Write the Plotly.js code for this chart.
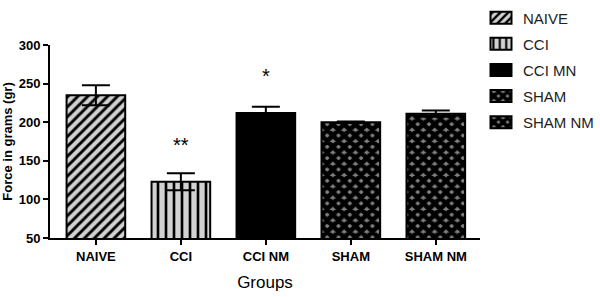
<!DOCTYPE html>
<html>
<head>
<meta charset="utf-8">
<script src="https://cdn.plot.ly/plotly-3.0.1.min.js"></script>
<style>html,body{margin:0;padding:0;background:#fff;}#chart{width:600px;height:297px;}</style>
</head>
<body>
<div id="chart"></div>
<script>
const categories = ["NAIVE", "CCI", "CCI NM", "SHAM", "SHAM NM"];
const legendNames = ["NAIVE", "CCI", "CCI MN", "SHAM", "SHAM NM"];
const means = [235, 123, 212, 200, 211];
const errors = [13, 11, 8, 1, 4];
const starLabels = ["", "**", "*", "", ""];
const starValues = [null, 170, 260, null, null];

const fills = ["#d2d2d2", "#d2d2d2", "#000000", "#808080", "#808080"];
const patterns = [
  {shape: "/", fgcolor: "#000", bgcolor: "#d2d2d2", size: 7, solidity: 0.42},
  {shape: "|", fgcolor: "#000", bgcolor: "#d2d2d2", size: 8, solidity: 0.33},
  {shape: ""},
  {shape: "x", fgcolor: "#000", bgcolor: "#808080", size: 8, solidity: 0.82},
  {shape: "x", fgcolor: "#000", bgcolor: "#808080", size: 8, solidity: 0.82}
];

const FONT = "Liberation Sans, Arial, sans-serif";

const traces = categories.map((c, i) => ({
  type: "bar",
  x: [c],
  y: [means[i]],
  name: legendNames[i],
  legendgroup: "g" + i,
  width: 0.69,
  marker: {color: fills[i], pattern: patterns[i], line: {color: "#000", width: 2}},
  error_y: {type: "data", array: [errors[i]], visible: true, color: "#000", thickness: 2, width: 14}
}));

const annotations = [];
categories.forEach((c, i) => {
  if (starLabels[i]) {
    annotations.push({x: c, y: starValues[i], xref: "x", yref: "y", text: starLabels[i],
      showarrow: false, font: {family: FONT, size: 20, color: "#000"}});
  }
});

const layout = {
  width: 600, height: 297,
  margin: {l: 50, r: 120, t: 45, b: 59},
  paper_bgcolor: "#fff", plot_bgcolor: "#fff",
  barmode: "overlay",
  showlegend: true,
  legend: {x: 483 / 600, xref: "container", y: 0.995, yref: "container", xanchor: "left", yanchor: "top",
    traceorder: "grouped", tracegroupgap: 3.6,
    font: {family: FONT, size: 15, color: "#222"}},
  xaxis: {
    type: "category", range: [-0.54, 4.52],
    showline: true, linecolor: "#000", linewidth: 2,
    ticks: "outside", ticklen: 5, tickwidth: 2, tickcolor: "#000",
    tickfont: {family: FONT, size: 13, color: "#000", weight: "bold"},
    title: {text: "Groups", standoff: 14, font: {family: FONT, size: 17, color: "#000"}},
    showgrid: false, zeroline: false, automargin: false
  },
  yaxis: {
    range: [50, 300], tickvals: [50, 100, 150, 200, 250, 300],
    showline: true, linecolor: "#000", linewidth: 2,
    ticks: "outside", ticklen: 5, tickwidth: 2, tickcolor: "#000",
    tickfont: {family: FONT, size: 13, color: "#000", weight: "bold"},
    title: {text: "Force in grams (gr)", standoff: 5, font: {family: FONT, size: 13, color: "#000", weight: "bold"}},
    showgrid: false, zeroline: false, automargin: false
  },
  annotations: annotations
};

function widenSwatches() {
  document.querySelectorAll("#chart .legend .legendpoints path").forEach(p => {
    const r = p.getBoundingClientRect();
    if (!r.width) return;
    const cx = r.left + r.width / 2;
    const dx = 501 - cx;
    const x0 = dx - 10.5, x1 = dx + 10.5;
    p.setAttribute("d", "M" + x1 + ",6H" + x0 + "V-6H" + x1 + "Z");
  });
}

Plotly.newPlot("chart", traces, layout, {displayModeBar: false, staticPlot: true}).then(() => {
  widenSwatches();
});
</script>
</body>
</html>
